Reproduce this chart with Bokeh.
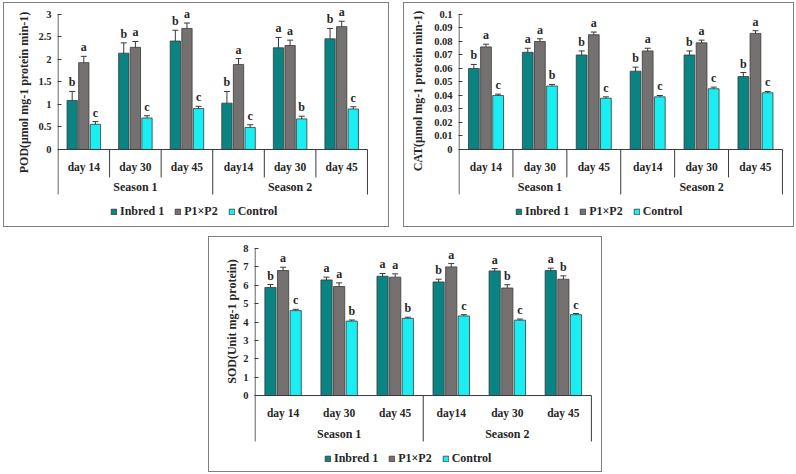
import numpy as np
from bokeh.plotting import figure
from bokeh.models import (ColumnDataSource, Range1d, FixedTicker, LabelSet,
                          Legend, LegendItem, Whisker, TeeHead, Spacer)
from bokeh.layouts import row, column
from bokeh.embed import file_html
from bokeh.resources import INLINE
from bokeh.core.properties import value

# ---------------- data ----------------
days = ["day 14", "day 30", "day 45", "day14", "day 30", "day 45"]
seasons = ["Season 1", "Season 2"]
series_names = ["Inbred 1", "P1×P2", "Control"]
series_colors = ["#0a8383", "#767171", "#19eef3"]

# POD
pod_inbred = [1.09, 2.14, 2.41, 1.03, 2.26, 2.46]
pod_p1p2 = [1.93, 2.27, 2.69, 1.89, 2.31, 2.73]
pod_control = [0.56, 0.70, 0.91, 0.49, 0.68, 0.90]
pod_inbred_err = [0.20, 0.23, 0.24, 0.26, 0.23, 0.23]
pod_p1p2_err = [0.14, 0.13, 0.12, 0.13, 0.12, 0.12]
pod_control_err = [0.06, 0.05, 0.05, 0.06, 0.06, 0.05]
pod_inbred_let = ["b", "b", "b", "b", "a", "b"]
pod_p1p2_let = ["a", "a", "a", "a", "a", "a"]
pod_control_let = ["c", "c", "c", "c", "b", "c"]
pod_ticks = [0, 0.5, 1, 1.5, 2, 2.5, 3]
pod_tick_labels = ["0", "0.5", "1", "1.5", "2", "2.5", "3"]

# CAT
cat_inbred = [0.060, 0.072, 0.070, 0.058, 0.070, 0.054]
cat_p1p2 = [0.076, 0.080, 0.085, 0.073, 0.079, 0.086]
cat_control = [0.040, 0.047, 0.038, 0.039, 0.045, 0.042]
cat_inbred_err = [0.003, 0.003, 0.003, 0.003, 0.003, 0.003]
cat_p1p2_err = [0.002, 0.002, 0.002, 0.002, 0.002, 0.002]
cat_control_err = [0.001, 0.0012, 0.001, 0.001, 0.0012, 0.001]
cat_inbred_let = ["b", "a", "b", "b", "b", "b"]
cat_p1p2_let = ["a", "a", "a", "a", "a", "a"]
cat_control_let = ["c", "b", "c", "c", "c", "c"]
cat_ticks = [0, 0.01, 0.02, 0.03, 0.04, 0.05, 0.06, 0.07, 0.08, 0.09, 0.1]
cat_tick_labels = ["0", "0.01", "0.02", "0.03", "0.04", "0.05", "0.06", "0.07",
                   "0.08", "0.09", "0.1"]

# SOD
sod_inbred = [5.88, 6.29, 6.49, 6.18, 6.78, 6.80]
sod_p1p2 = [6.80, 5.93, 6.44, 7.00, 5.85, 6.33]
sod_control = [4.62, 4.05, 4.20, 4.33, 4.10, 4.40]
sod_inbred_err = [0.16, 0.15, 0.15, 0.15, 0.13, 0.13]
sod_p1p2_err = [0.18, 0.2, 0.18, 0.18, 0.18, 0.18]
sod_control_err = [0.07, 0.06, 0.06, 0.07, 0.06, 0.06]
sod_inbred_let = ["b", "a", "a", "b", "a", "a"]
sod_p1p2_let = ["a", "a", "a", "a", "b", "b"]
sod_control_let = ["c", "b", "b", "c", "c", "c"]
sod_ticks = [0, 1, 2, 3, 4, 5, 6, 7, 8]
sod_tick_labels = ["0", "1", "2", "3", "4", "5", "6", "7", "8"]

FONT = "Liberation Serif"
INK = "#262626"
LINE = "#3a3a3a"
NBSP = "\u00a0"


def make_panel(vals, errs, lets, ylabel, ticks, tick_labels, ycat, yframe, ymax,
               ytop, w, h, ml, mr, title_standoff, title_pad, leg_loc, day_seps):
    n = len(days)
    p = figure(width=w, height=h, x_range=Range1d(-0.01, n + 0.02),
               y_range=Range1d(yframe, ytop), output_backend="svg",
               toolbar_location=None, x_axis_location=None,
               min_border_left=ml, min_border_right=mr,
               min_border_top=1, min_border_bottom=1)
    p.grid.visible = False
    p.outline_line_color = None

    centers = np.arange(n) + 0.5
    offsets = [-0.225, 0.0, 0.225]
    items = []
    for k in range(3):
        v = np.array(vals[k], dtype=float)
        e = np.array(errs[k], dtype=float)
        src = ColumnDataSource(dict(x=centers + offsets[k], top=v, upper=v + e,
                                    lower=v - e, letter=lets[k]))
        r = p.vbar(x="x", top="top", bottom=0, width=0.2, source=src,
                   fill_color=series_colors[k], line_color=LINE, line_width=0.8)
        items.append(LegendItem(label=series_names[k], renderers=[r]))
        p.add_layout(Whisker(source=src, base="x", upper="upper", lower="lower",
                             line_color=LINE, line_width=1,
                             upper_head=TeeHead(size=6, line_color=LINE, line_width=1),
                             lower_head=TeeHead(size=6, line_color=LINE, line_width=1)))
        p.add_layout(LabelSet(source=src, x="x", y="upper", text="letter",
                              y_offset=2, text_align="center", text_baseline="bottom",
                              text_font=value(FONT), text_font_style="bold",
                              text_font_size="12px", text_color=INK))

    # value-axis line (drawn as glyph so it spans top tick -> category block)
    p.segment(x0=[0], y0=[ycat], x1=[0], y1=[ymax], line_color=LINE, line_width=1)
    # category axis (Excel-style multi-level)
    p.segment(x0=[0], y0=[0], x1=[n], y1=[0], line_color=LINE, line_width=1)
    bounds = np.arange(1, n + 1)
    season_b = [int(b) for b in bounds if b % 3 == 0]
    p.segment(x0=season_b, y0=[0] * len(season_b), x1=season_b,
              y1=[ycat] * len(season_b), line_color=LINE, line_width=1)
    if day_seps:
        day_b = [int(b) for b in bounds if b % 3 != 0]
        p.segment(x0=day_b, y0=[0] * len(day_b), x1=day_b,
                  y1=[ycat * 0.62] * len(day_b), line_color=LINE, line_width=1)
    p.text(x=centers, y=[ycat * 0.38] * n, text=days, text_align="center",
           text_baseline="middle", text_font=value(FONT), text_font_style="bold",
           text_font_size="11.5px", text_color=INK)
    p.text(x=np.arange(len(seasons)) * 3 + 1.5, y=[ycat * 0.84] * len(seasons),
           text=seasons, text_align="center", text_baseline="middle",
           text_font=value(FONT), text_font_style="bold", text_font_size="12px",
           text_color=INK)

    ax = p.yaxis[0]
    ax.ticker = FixedTicker(ticks=ticks)
    ax.major_label_overrides = dict(zip(ticks, tick_labels))
    ax.major_tick_in = 4
    ax.major_tick_out = 0
    ax.minor_tick_line_color = None
    ax.axis_line_color = None
    ax.major_tick_line_color = LINE
    ax.major_label_text_font = FONT
    ax.major_label_text_font_style = "bold"
    ax.major_label_text_font_size = "10.5px"
    ax.major_label_text_color = INK
    ax.major_label_standoff = 6

    # leading non-breaking spaces lift the centred title to sit beside the value scale
    ax.axis_label = NBSP * title_pad + ylabel
    ax.axis_label_standoff = title_standoff
    ax.axis_label_text_font = FONT
    ax.axis_label_text_font_style = "bold"
    ax.axis_label_text_font_size = "12px"
    ax.axis_label_text_color = INK

    leg = Legend(items=items, orientation="horizontal", location=leg_loc,
                 border_line_color=None, background_fill_alpha=0,
                 glyph_width=7, glyph_height=7, label_standoff=3, spacing=10,
                 padding=3, margin=0, label_height=12,
                 label_text_font=FONT, label_text_font_style="bold",
                 label_text_font_size="12px", label_text_color=INK)
    p.add_layout(leg)
    return p


def boxed(p):
    return column(p, styles={"border": "1px solid #808080"})


p1 = make_panel([pod_inbred, pod_p1p2, pod_control],
                [pod_inbred_err, pod_p1p2_err, pod_control_err],
                [pod_inbred_let, pod_p1p2_let, pod_control_let],
                "POD(μmol mg-1 protein min-1)", pod_ticks, pod_tick_labels,
                -1.0, -1.689, 3.0, 3.222, 384, 223, 53, 20, 4, 15, (53, 6), True)
p2 = make_panel([cat_inbred, cat_p1p2, cat_control],
                [cat_inbred_err, cat_p1p2_err, cat_control_err],
                [cat_inbred_let, cat_p1p2_let, cat_control_let],
                "CAT(μmol mg-1 protein min-1)", cat_ticks, cat_tick_labels,
                -0.0333, -0.0563, 0.1, 0.1074, 389, 223, 54, 10, 6, 16, (57, 6), True)
p3 = make_panel([sod_inbred, sod_p1p2, sod_control],
                [sod_inbred_err, sod_p1p2_err, sod_control_err],
                [sod_inbred_let, sod_p1p2_let, sod_control_let],
                "SOD(Unit mg-1 protein)", sod_ticks, sod_tick_labels,
                -2.5, -4.08, 8.0, 8.544, 392, 234, 45, 9, 1, 22, (70, 4), False)

layout = column(Spacer(height=2),
                row(Spacer(width=3), boxed(p1), Spacer(width=14), boxed(p2)),
                Spacer(height=9),
                row(Spacer(width=208), boxed(p3)))

open("out.html", "w").write(file_html(layout, INLINE))
